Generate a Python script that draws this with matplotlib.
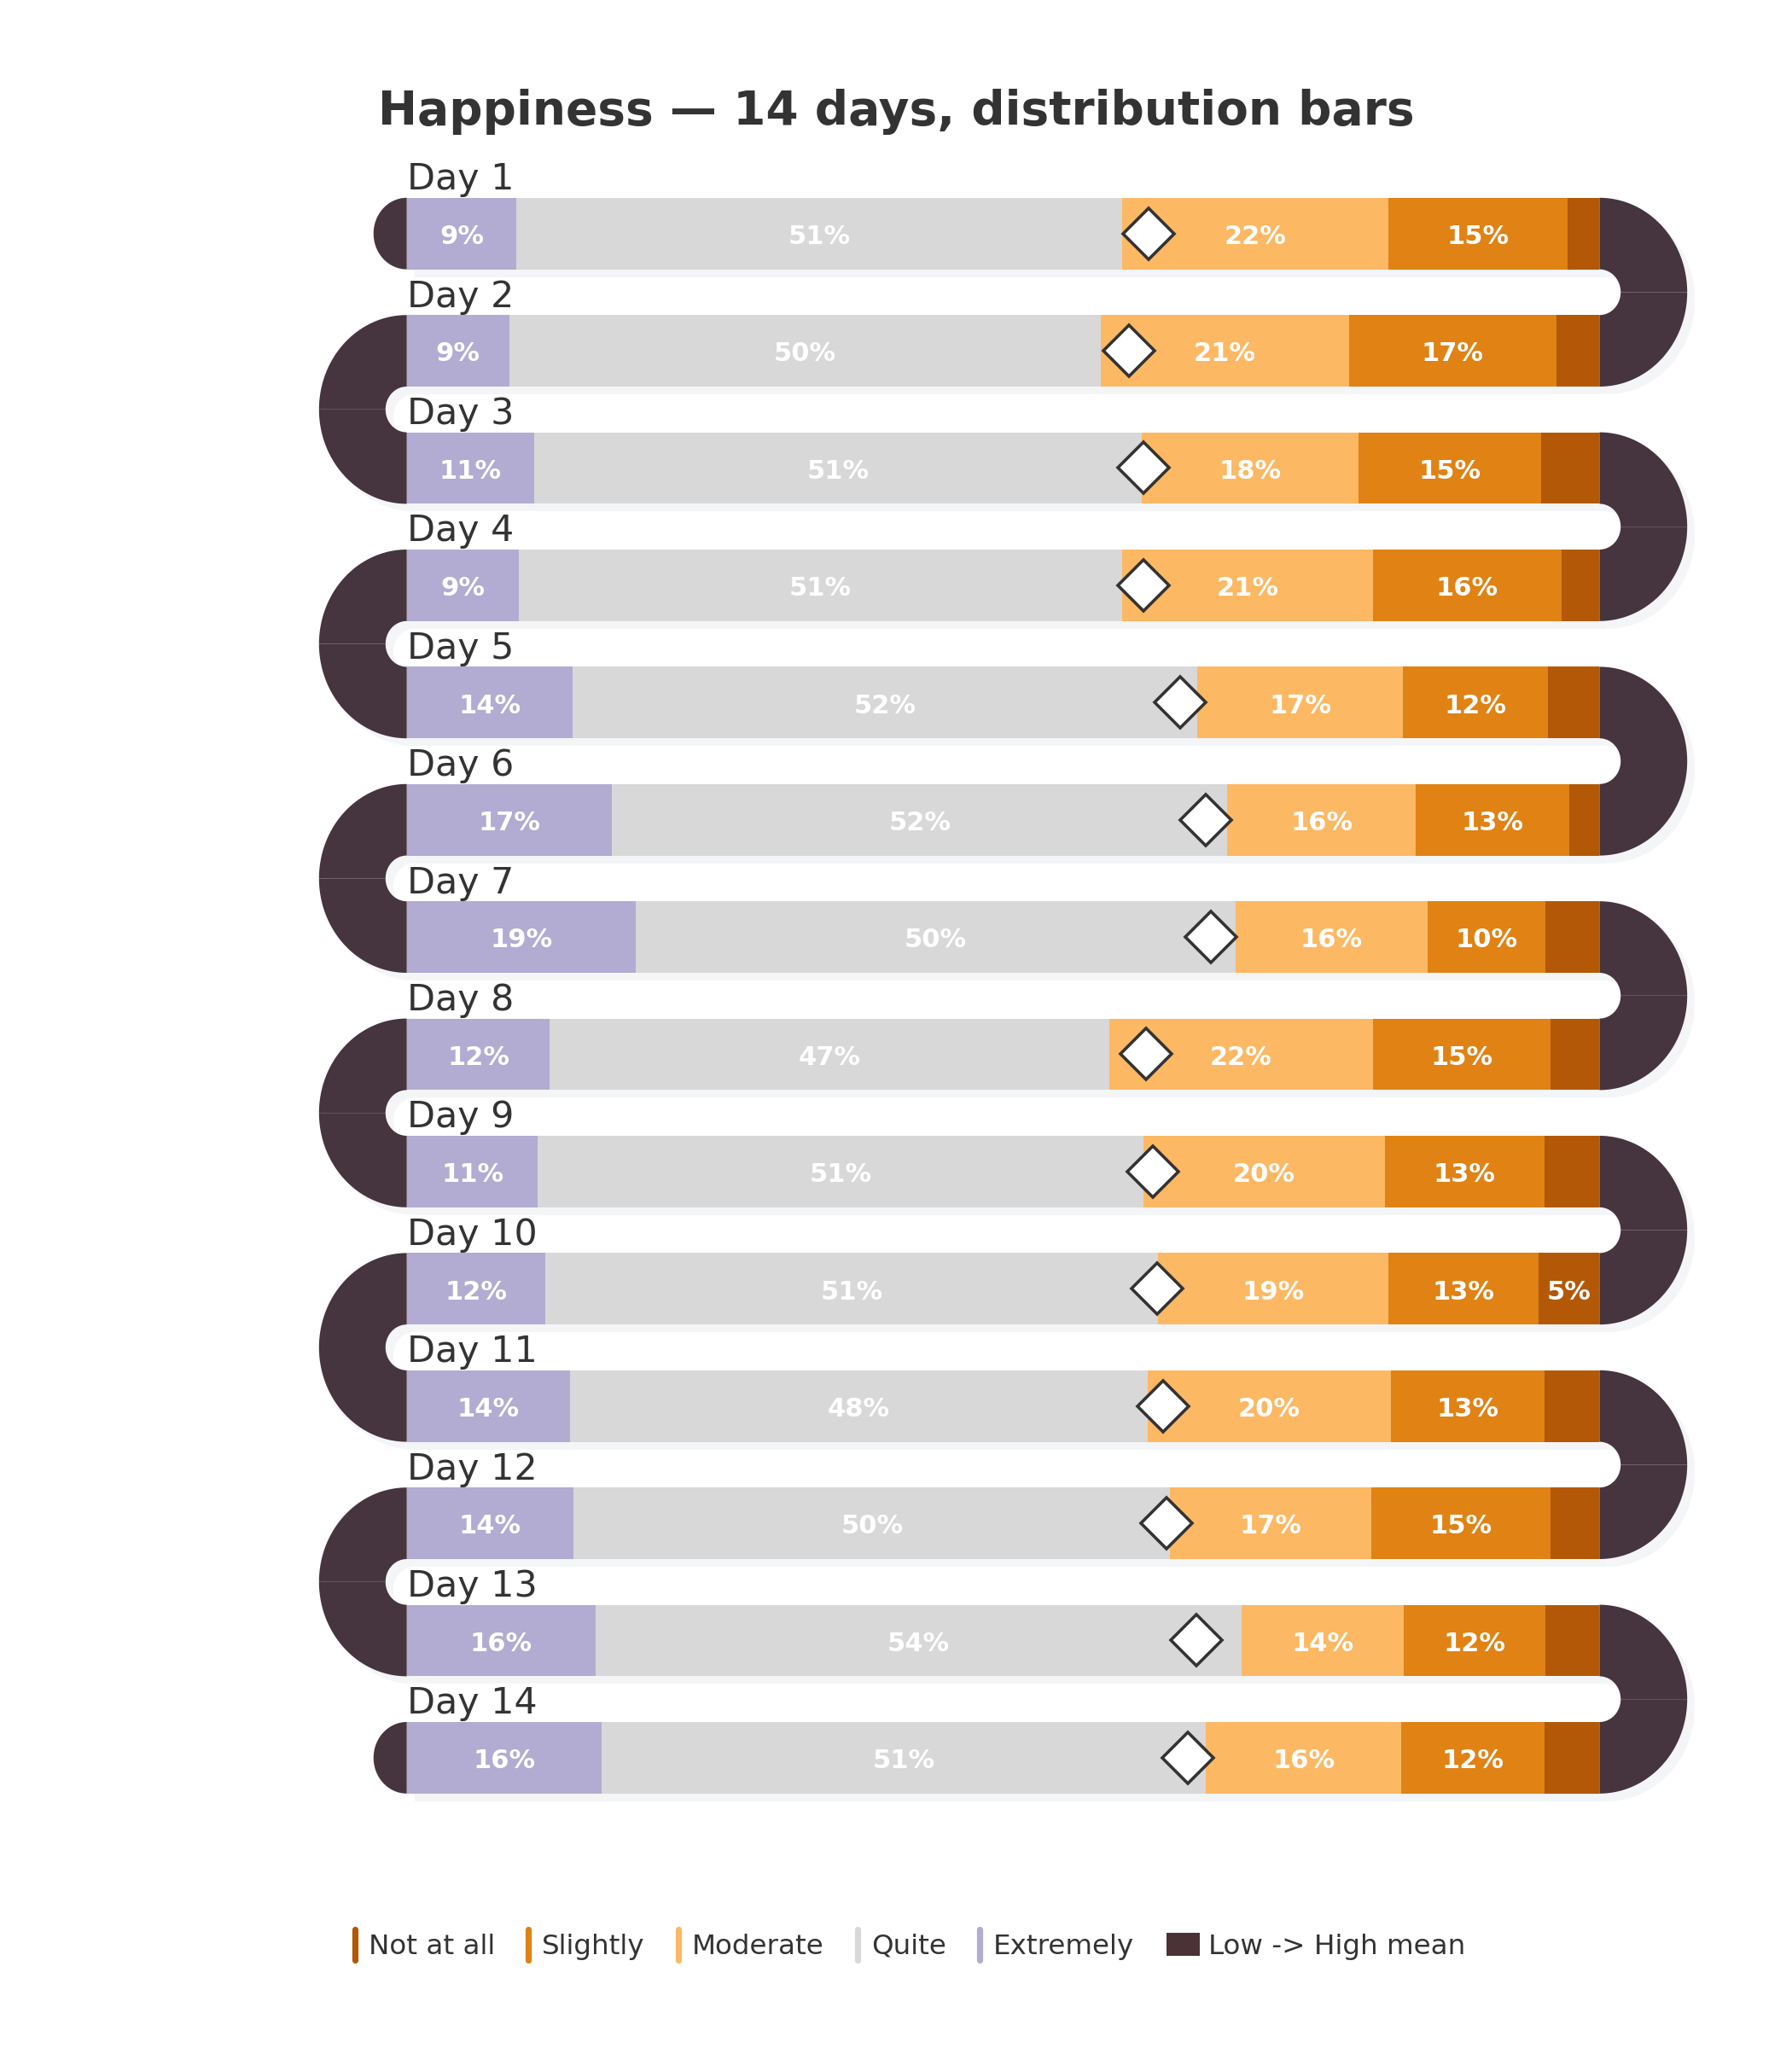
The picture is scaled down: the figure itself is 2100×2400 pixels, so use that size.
import numpy as np
import matplotlib
matplotlib.use("Agg")
import matplotlib.pyplot as plt
from matplotlib.patches import Polygon, Patch
from matplotlib.lines import Line2D
from matplotlib.markers import MarkerStyle
from matplotlib.transforms import ScaledTranslation
from matplotlib.legend_handler import HandlerBase

# ---------------- data ----------------
days = [f"Day {i}" for i in range(1, 15)]
categories = ["Not at all", "Slightly", "Moderate", "Quite", "Extremely"]
not_at_all = [2.7, 3.6, 4.9, 3.2, 4.3, 2.5, 4.5, 4.1, 4.6, 5.1, 4.6, 4.1, 4.5, 4.6]
slightly   = [15.0, 17.4, 15.3, 15.8, 12.2, 12.9, 9.9, 14.9, 13.4, 12.6, 12.9, 15.0, 11.9, 12.0]
moderate   = [22.3, 20.8, 18.2, 21.0, 17.2, 15.8, 16.1, 22.1, 20.2, 19.3, 20.4, 16.9, 13.6, 16.4]
quite      = [50.8, 49.6, 50.9, 50.6, 52.4, 51.6, 50.3, 46.9, 50.8, 51.4, 48.4, 50.0, 54.2, 50.7]
extremely  = [9.2, 8.6, 10.7, 9.4, 13.9, 17.2, 19.2, 12.0, 11.0, 11.6, 13.7, 14.0, 15.8, 16.3]
scores = [1, 2, 3, 4, 5]
mean_label = "Low -> High mean"

cat_colors = ["#b35806", "#e08214", "#fdb863", "#d8d8d8", "#b2abd2"]
connector_color = "#46343f"
legend_patch_color = "#4a3237"
shadow_color = "#f4f5f7"
text_color = "#333333"

# ---------------- figure ----------------
DPI = 200
fig = plt.figure(figsize=(10.5, 12), dpi=DPI)
ax = fig.add_axes([0, 0, 1, 1])
ax.set_xlim(-34.108, 116.148)
ax.set_ylim(15.4753, -1.9920)
ax.axis("off")

n = len(days)
y = np.arange(n)
bar_h = 0.61
K = 0.93 * 137.4 / 13.976   # x-units per y-unit for round-looking ends

shadow_tr = ax.transData + ScaledTranslation(9 / DPI, -9 / DPI, fig.dpi_scale_trans)

series = [not_at_all, slightly, moderate, quite, extremely]
arr = np.array(series)            # rows: categories
totals = arr.sum(axis=0)

# shadows for bars
ax.barh(y, totals, left=0, height=bar_h, color=shadow_color, linewidth=0,
        transform=shadow_tr, zorder=1)

# stacked bars: Extremely at left ... Not at all at right
left = np.zeros(n)
for idx in [4, 3, 2, 1, 0]:
    vals = arr[idx]
    ax.barh(y, vals, left=left, height=bar_h, color=cat_colors[idx],
            linewidth=0, zorder=2)
    for j in range(n):
        if vals[j] >= 5:
            ax.text(left[j] + vals[j] / 2, y[j] + 0.0895, f"{vals[j]:.0f}%",
                    ha="center", va="baseline", color="white", fontsize=11,
                    fontweight="bold", zorder=4)
    left = left + vals


def quarter_ring(xc, yc, r_out, r_in, side, part):
    if part == "top":
        t = np.linspace(0, np.pi / 2, 80)
    else:
        t = np.linspace(np.pi / 2, np.pi, 80)
    xo = xc + side * K * r_out * np.sin(t)
    yo = yc - r_out * np.cos(t)
    ti = t[::-1]
    xi = xc + side * K * r_in * np.sin(ti)
    yi = yc - r_in * np.cos(ti)
    return np.column_stack([np.r_[xo, xi], np.r_[yo, yi]])


r_out = (1 + bar_h) / 2
r_in = (1 - bar_h) / 2
for i in range(n - 1):
    yc = (y[i] + y[i + 1]) / 2
    if i % 2 == 0:
        xc, side = totals[i], 1
    else:
        xc, side = 0, -1
    for part in ("top", "bottom"):
        verts = quarter_ring(xc, yc, r_out, r_in, side, part)
        ax.add_patch(Polygon(verts, closed=True, facecolor=shadow_color,
                             edgecolor="none", transform=shadow_tr, zorder=1))
        ax.add_patch(Polygon(verts, closed=True, facecolor=connector_color,
                             edgecolor="none", zorder=2))

# end caps on the free left ends
for j in (0, n - 1):
    t = np.linspace(0, np.pi, 120)
    r = bar_h / 2
    verts = np.column_stack([-K * r * np.sin(t), y[j] - r * np.cos(t)])
    ax.add_patch(Polygon(verts, closed=True, facecolor=connector_color,
                         edgecolor="none", zorder=2))

# mean diamonds
means = (np.array(scores)[:, None] * arr).sum(axis=0) / totals
pos = (means - 1) / 4 * 100
ax.plot(pos, y, linestyle="none", marker="D", markersize=15.5,
        markerfacecolor="white", markeredgecolor=text_color,
        markeredgewidth=1.3, zorder=5)

# day labels
for j in range(n):
    ax.text(0, y[j] - bar_h / 2 - 0.07, days[j], ha="left", va="baseline",
            fontsize=15.4, color=text_color, zorder=4)

# title
fig.text(0.5, 1 - 146 / 2400, "Happiness \u2014 14 days, distribution bars",
         ha="center", va="baseline", fontsize=19.8, fontweight="bold",
         color=text_color)


# legend
class VBarHandler(HandlerBase):
    def __init__(self, frac, **kw):
        super().__init__(**kw)
        self.frac = frac

    def create_artists(self, legend, orig_handle, xdescent, ydescent, width,
                       height, fontsize, trans):
        x = -xdescent + self.frac * width
        yc = -ydescent + height / 2
        ln = Line2D([x], [yc], linestyle="none",
                    marker=MarkerStyle("|", capstyle="round"),
                    markersize=13.0, markeredgewidth=2.6,
                    markeredgecolor=orig_handle.get_markeredgecolor(),
                    transform=trans)
        return [ln]


leg_y = 1 - 2281 / 2400
common = dict(loc="center left", frameon=False, fontsize=11.7,
              handlelength=1.2, handleheight=0.91, handletextpad=0.31,
              borderpad=0, borderaxespad=0, labelcolor=text_color)

line_handles = [Line2D([0], [0], linestyle="none", marker="|",
                       markeredgecolor=c) for c in cat_colors]
fig.legend(line_handles, categories, bbox_to_anchor=(0.1822, leg_y),
           ncol=len(categories), columnspacing=0.19,
           handler_map={Line2D: VBarHandler(0.846)}, **common)

fig.legend([Patch(facecolor=legend_patch_color, edgecolor="none")],
           [mean_label], bbox_to_anchor=(1367 / 2100, leg_y), ncol=1, **common)

fig.savefig("out.png", dpi=DPI, facecolor="white")
